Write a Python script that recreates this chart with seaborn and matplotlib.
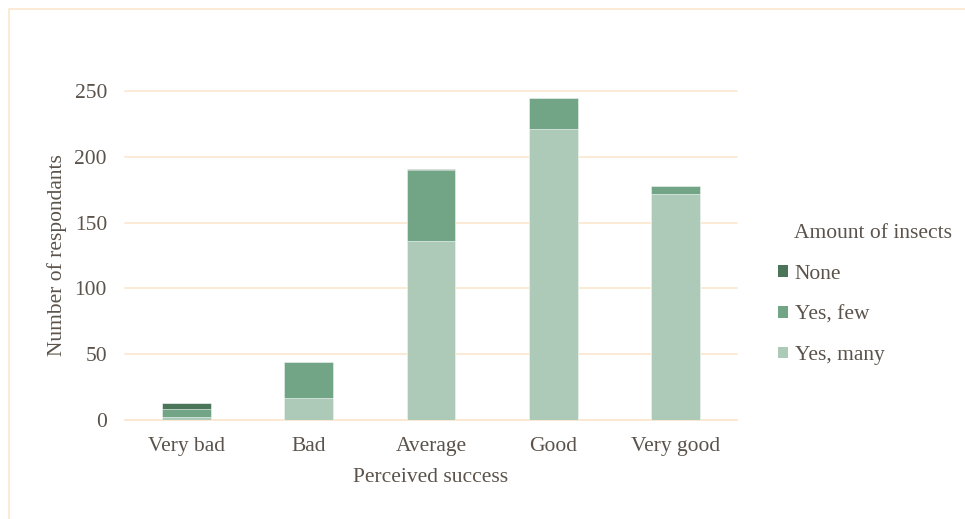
import matplotlib
matplotlib.use("Agg")
import matplotlib.pyplot as plt
from matplotlib.patches import Patch, Rectangle
import seaborn as sns
import pandas as pd
import numpy as np

categories = ["Very bad", "Bad", "Average", "Good", "Very good"]
yes_many = [2, 17, 136, 221, 172]
yes_few = [6, 27, 54, 24, 6]
none = [5, 0, 1, 0, 0]
series_labels = ["None", "Yes, few", "Yes, many"]
colors = {"None": "#4a7558", "Yes, few": "#72a586", "Yes, many": "#adcab8"}
yticks = [0, 50, 100, 150, 200, 250]

text_color = "#5b534b"
grid_color = "#fbe8d2"
fs = 15.5

sns.set_theme(style="white")
plt.rcParams["font.family"] = ["Liberation Serif", "DejaVu Serif"]

fig = plt.figure(figsize=(9.65, 5.19), dpi=100)
ax = fig.add_axes([125 / 965, 1 - 420 / 519, (737 - 125) / 965, (420 - 91) / 519])

df = pd.DataFrame({
    "category": categories,
    "Yes, many": yes_many,
    "Yes, few": yes_few,
    "None": none,
})
# cumulative heights, drawn tallest first so each layer covers the one below
df["top_none"] = df["Yes, many"] + df["Yes, few"] + df["None"]
df["top_few"] = df["Yes, many"] + df["Yes, few"]
df["top_many"] = df["Yes, many"]

for col, name in [("top_none", "None"), ("top_few", "Yes, few"), ("top_many", "Yes, many")]:
    sns.barplot(data=df, x="category", y=col, order=categories, color=colors[name],
                width=0.4, saturation=1, edgecolor="white", linewidth=0.4, ax=ax, zorder=3)

ax.set_ylim(0, 250)
ax.set_xlim(-0.5, 4.5)
ax.set_yticks(yticks)
ax.yaxis.grid(True, color=grid_color, linewidth=1.3, zorder=0)
for gl in ax.get_ygridlines():
    gl.set_clip_on(False)
ax.set_axisbelow(True)
for s in ["top", "right", "left"]:
    ax.spines[s].set_visible(False)
ax.spines["bottom"].set_color(grid_color)
ax.spines["bottom"].set_linewidth(1.3)
ax.tick_params(axis="y", length=0, labelsize=fs, colors=text_color, pad=13)
ax.tick_params(axis="x", length=0, labelsize=fs, colors=text_color, pad=12)
ax.set_xlabel("Perceived success", fontsize=fs, color=text_color, labelpad=9)
ax.set_ylabel("Number of respondants", fontsize=fs, color=text_color, labelpad=5.5)

handles = [Patch(facecolor=colors[n], edgecolor="none", label=n) for n in series_labels]
leg = fig.legend(handles=handles, title="Amount of insects", loc="upper left",
                 bbox_to_anchor=(759 / 965, 1 - 205 / 519), frameon=False,
                 fontsize=fs, title_fontsize=fs, handlelength=0.45, handleheight=0.45,
                 handletextpad=0.3, labelspacing=1.0, alignment="left")
for t in leg.get_texts():
    t.set_color(text_color)
leg.get_title().set_color(text_color)
leg.get_title().set_position((16, 0))

# outer chart border
fig.patches.append(Rectangle((9 / 965, -0.1), 1.2, 1 - 8.5 / 519 + 0.1,
                             transform=fig.transFigure, fill=False,
                             edgecolor=grid_color, linewidth=1.3))

fig.savefig("out.png", dpi=100, facecolor="white")
